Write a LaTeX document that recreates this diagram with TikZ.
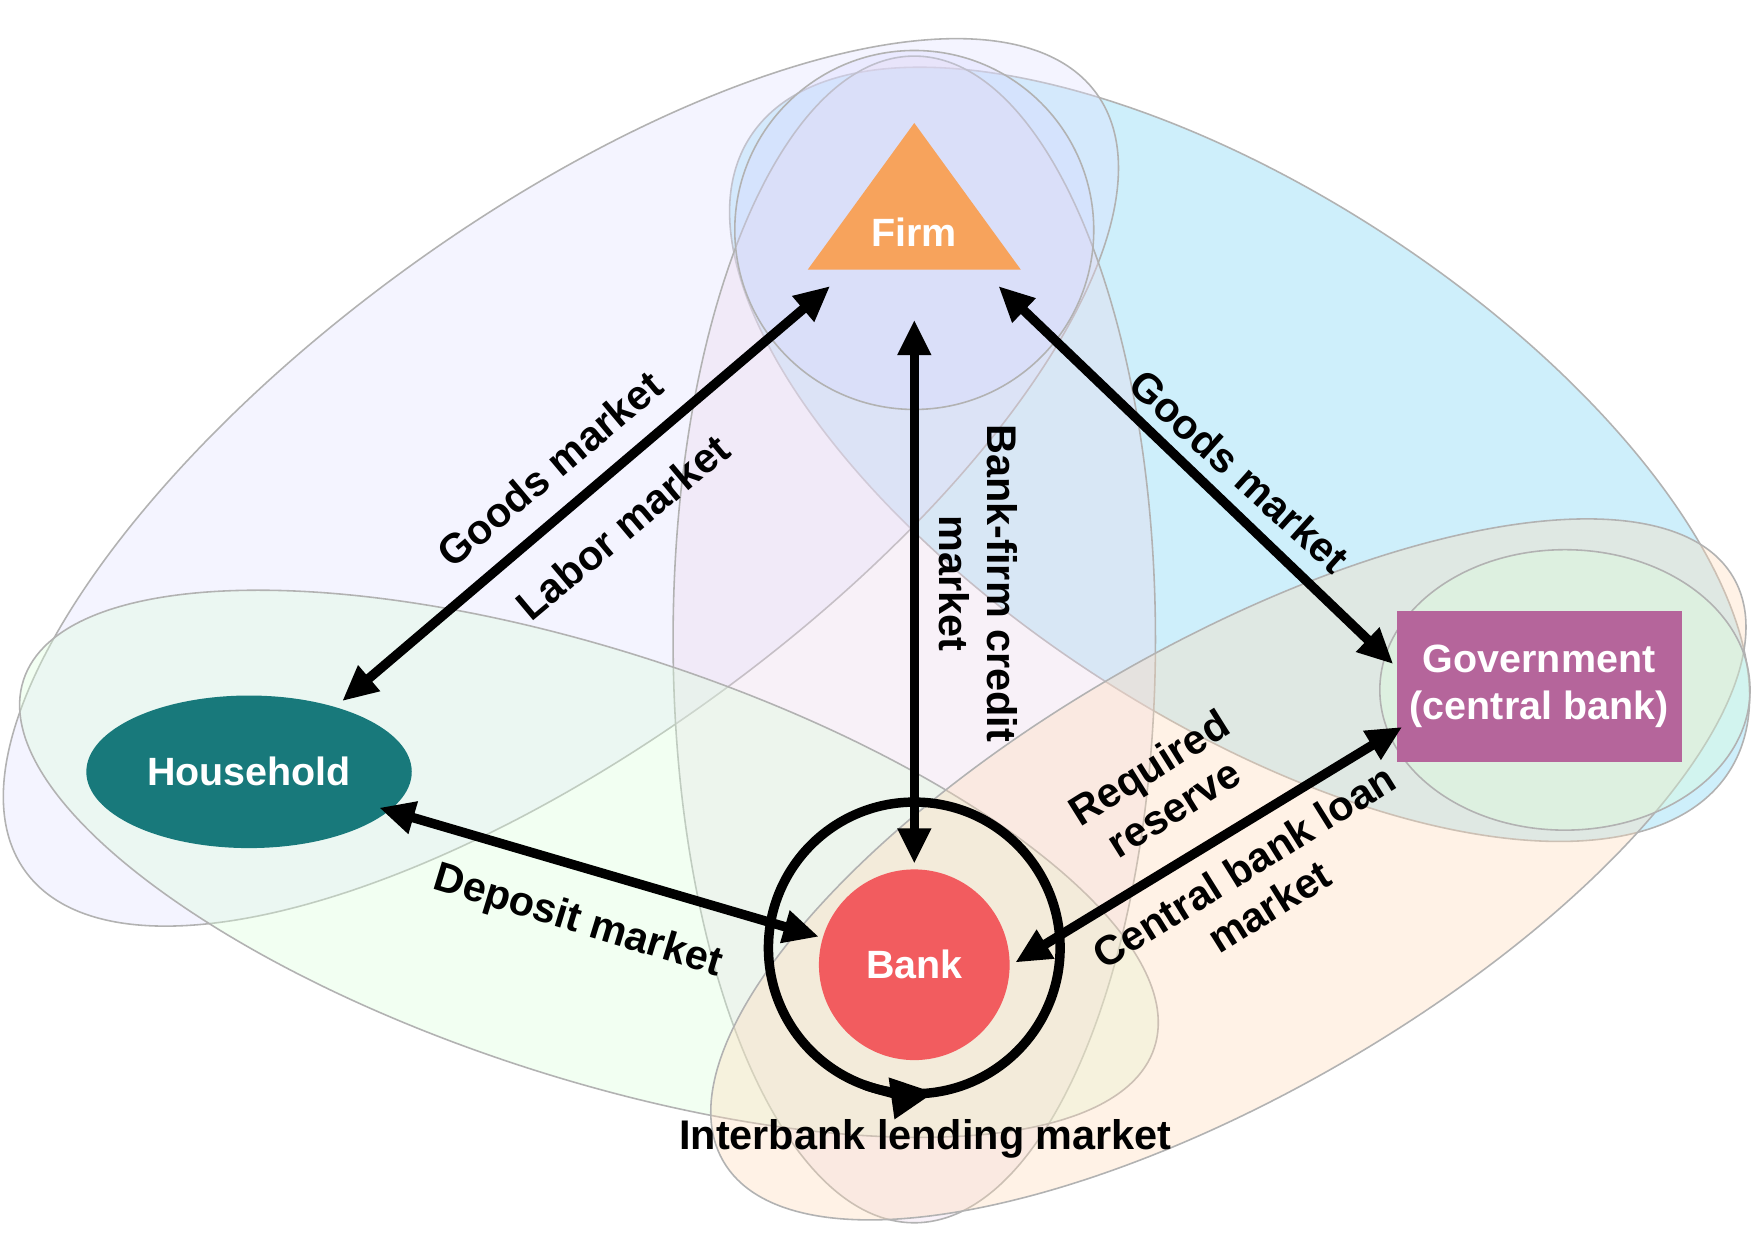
\documentclass[tikz,border=0pt]{standalone}
\usepackage{fontspec}
\setmainfont{Liberation Sans}
\usetikzlibrary{arrows.meta,shapes.geometric}
\definecolor{firmc}{HTML}{F7A35C}
\definecolor{hhc}{HTML}{18797B}
\definecolor{bankc}{HTML}{F25C5F}
\definecolor{govc}{HTML}{B5659B}
\begin{document}
\begin{tikzpicture}[x=0.01cm,y=-0.01cm,
  reg/.style={draw=gray!60,line width=0.4pt,fill opacity=0.35},
  lab/.style={font=\fontsize{10.5}{12}\selectfont\bfseries,align=center},
  arr/.style={{Triangle[length=9pt,width=8pt]}-{Triangle[length=9pt,width=8pt]},line width=2.4pt},
  wt/.style={text=white,font=\fontsize{10}{12}\selectfont\bfseries,align=center}]
\useasboundingbox (0,0) rectangle (1568,1109);
% regions
\fill[white] (0,0) rectangle (1568,1109);
\filldraw[reg,fill=cyan!55] (1105,405) ellipse[x radius=520,y radius=235,rotate=-33];
\filldraw[reg,fill=blue!12] (500,430) ellipse[x radius=590,y radius=235,rotate=36];
\filldraw[reg,fill=violet!15] (815,570) ellipse[x radius=215,y radius=520];
\filldraw[reg,fill=blue!15] (815,205) circle[radius=160];
\filldraw[reg,fill=green!14] (525,770) ellipse[x radius=530,y radius=190,rotate=-18];
\filldraw[reg,fill=orange!28] (1095,775) ellipse[x radius=520,y radius=200,rotate=30];
\filldraw[reg,fill=green!14] (1395,615) ellipse[x radius=165,y radius=125];
% nodes
\node[isosceles triangle,isosceles triangle apex angle=72,shape border rotate=90,fill=firmc,inner sep=0pt,minimum height=130*0.01cm,minimum width=190*0.01cm] (firm) at (815,192) {};
\node[wt] at (815,207) (firmt) {Firm};
\node[ellipse,fill=hhc,minimum width=256*0.01cm,minimum height=136*0.01cm,wt] (hh) at (222,688) {Household};
\node[circle,fill=bankc,minimum size=170*0.01cm,wt] (bank) at (815,860) {Bank};
\node[rectangle,fill=govc,minimum width=241*0.01cm,minimum height=135*0.01cm,wt] (gov) at (1372,612) {Government\\(central bank)};
% ring
\draw[line width=2.4pt] (815,845) circle[radius=130];
\draw[line width=2.4pt,-{Triangle[length=11pt,width=10pt]}] (770.5,967.2) arc[start angle=110,end angle=82,radius=130];
% arrows
\coordinate (hf1) at (305,625); \coordinate (hf2) at (740,255);
\draw[arr] (hf1) -- (hf2);
\coordinate (fb1) at (815,285); \coordinate (fb2) at (815,770);
\draw[arr] (fb1) -- (fb2);
\coordinate (fg1) at (890,255); \coordinate (fg2) at (1242,592);
\draw[arr] (fg1) -- (fg2);
\coordinate (hb1) at (338,720); \coordinate (hb2) at (730,835);
\draw[arr] (hb1) -- (hb2);
\coordinate (gb1) at (1250,648); \coordinate (gb2) at (905,858);
\draw[arr] (gb1) -- (gb2);
% labels
\node[lab,rotate=40] (l1) at (490,418) {Goods market};
\node[lab,rotate=40] (l2) at (555,470) {Labor market};
\node[lab,rotate=-90] (l3) at (872,520) {Bank-firm credit\\market};
\node[lab,rotate=-42] (l4) at (1105,420) {Goods market};
\node[lab,rotate=-17] (l5) at (515,822) {Deposit market};
\node[lab,rotate=32] (l6) at (1035,702) {Required\\reserve};
\node[lab,rotate=32] (l7) at (1120,790) {Central bank loan\\market};
\node[lab] (l8) at (825,1015) {Interbank lending market};
\end{tikzpicture}
\end{document}
